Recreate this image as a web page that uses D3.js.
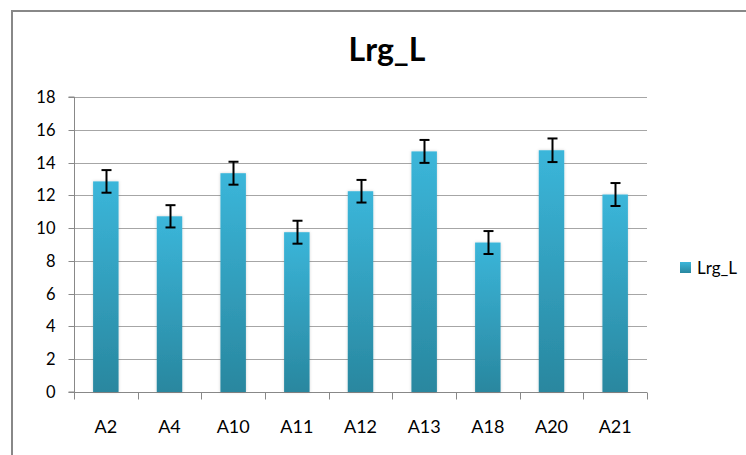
<!DOCTYPE html>
<html><head><meta charset="utf-8">
<script src="https://cdn.jsdelivr.net/npm/d3@7"></script>
<style>body{margin:0;background:#fff}svg{display:block}text{font-family:Lato,"Open Sans",sans-serif}</style>
</head><body>
<svg id="c" width="746" height="455"></svg>
<script>
const categories = ["A2","A4","A10","A11","A12","A13","A18","A20","A21"];
const values = [12.85, 10.72, 13.35, 9.75, 12.25, 14.68, 9.12, 14.75, 12.05];
const errors = [0.69, 0.68, 0.70, 0.70, 0.69, 0.70, 0.70, 0.72, 0.70];
const yTicks = [0,2,4,6,8,10,12,14,16,18];
const title = "Lrg_L";
const seriesName = "Lrg_L";

const svg = d3.select("#c");
const m = {l:74, r:647, t:97, b:392};
const x = d3.scaleBand().domain(categories).range([m.l, m.r]).paddingInner(0.6).paddingOuter(0.3);
const y = d3.scaleLinear().domain([0,18]).range([m.b, m.t]);

const defs = svg.append("defs");
const g = defs.append("linearGradient").attr("id","bg").attr("x1",0).attr("y1",0).attr("x2",0).attr("y2",1);
g.append("stop").attr("offset","0%").attr("stop-color","#3bb6da");
g.append("stop").attr("offset","100%").attr("stop-color","#29879f");
const f = defs.append("filter").attr("id","sh").attr("x","-30%").attr("y","-10%").attr("width","160%").attr("height","120%");
f.append("feDropShadow").attr("dx",0).attr("dy",0).attr("stdDeviation",1.5).attr("flood-color","#000").attr("flood-opacity",0.18);

// border
svg.append("path").attr("d","M12,455 L12,11 L746,11").attr("fill","none").attr("stroke","#888").attr("stroke-width",2);

// title
svg.append("text").attr("x",387).attr("y",61).attr("text-anchor","middle")
  .attr("font-size",32).attr("font-weight","bold").attr("fill","#000").text(title);

// gridlines
svg.append("g").selectAll("line").data(yTicks.filter(d=>d>0)).join("line")
  .attr("x1",m.l).attr("x2",m.r).attr("y1",d=>Math.round(y(d))+0.5).attr("y2",d=>Math.round(y(d))+0.5)
  .attr("stroke","#a6a6a6").attr("stroke-width",1);

// y axis
const ya = svg.append("g").attr("transform",`translate(${m.l+0.5},0)`)
  .call(d3.axisLeft(y).tickValues(yTicks).tickSize(6).tickPadding(13).tickFormat(d3.format("d")));
ya.select(".domain").attr("stroke","#888").attr("d",`M-6,${y(18)}H0V${y(0)}H-6`);
ya.selectAll(".tick line").attr("stroke","#888");
ya.selectAll(".tick text").attr("font-size",16.5).attr("fill","#000").attr("font-family","Lato, sans-serif");
ya.selectAll(".tick").attr("transform",d=>`translate(0,${Math.round(y(d))+0.5})`);

// x axis
const xa = svg.append("g").attr("transform",`translate(0,${m.b+0.5})`);
xa.append("line").attr("x1",m.l).attr("x2",m.r).attr("stroke","#888");
const bounds = d3.range(categories.length+1).map(i=>m.l + i*(m.r-m.l)/categories.length);
xa.selectAll("line.t").data(bounds).join("line").attr("class","t")
  .attr("x1",d=>Math.round(d)+0.5).attr("x2",d=>Math.round(d)+0.5).attr("y1",0).attr("y2",7).attr("stroke","#888");
xa.selectAll("text").data(categories).join("text")
  .attr("x",d=>x(d)+x.bandwidth()/2).attr("y",40).attr("text-anchor","middle")
  .attr("font-size",18).attr("fill","#000").text(d=>d);

// bars
svg.append("g").selectAll("rect").data(categories).join("rect")
  .attr("x",d=>x(d)).attr("width",x.bandwidth())
  .attr("y",(d,i)=>y(values[i])).attr("height",(d,i)=>y(0)-y(values[i]))
  .attr("fill","url(#bg)").attr("filter","url(#sh)");

// error bars
const eg = svg.append("g").attr("stroke","#000").attr("stroke-width",2);
categories.forEach((c,i)=>{
  const cx = Math.round(x(c)+x.bandwidth()/2)+0.5;
  const y1 = y(values[i]+errors[i]), y2 = y(values[i]-errors[i]);
  eg.append("line").attr("x1",cx).attr("x2",cx).attr("y1",y1).attr("y2",y2);
  eg.append("line").attr("x1",cx-5).attr("x2",cx+5).attr("y1",y1).attr("y2",y1);
  eg.append("line").attr("x1",cx-5).attr("x2",cx+5).attr("y1",y2).attr("y2",y2);
});

// legend
svg.append("rect").attr("x",680).attr("y",262).attr("width",11).attr("height",11).attr("fill","url(#bg)");
svg.append("text").attr("x",697).attr("y",274).attr("font-size",17).attr("fill","#000").text(seriesName);
</script>
</body></html>
